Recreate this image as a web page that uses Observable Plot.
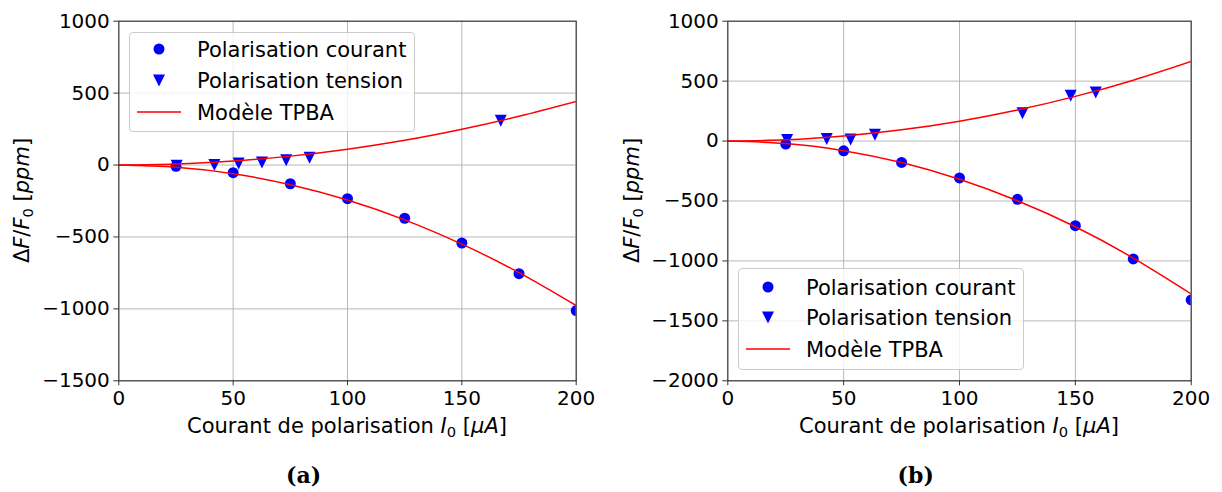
<!DOCTYPE html>
<html>
<head>
<meta charset="utf-8">
<script src="https://cdn.jsdelivr.net/npm/d3@7"></script>
<script src="https://cdn.jsdelivr.net/npm/@observablehq/plot@0.6"></script>
<style>
  html, body { margin: 0; padding: 0; background: white; }
  #root { position: relative; width: 1222px; height: 492px; font-family: "DejaVu Sans", sans-serif; overflow: hidden; }
  .panel { position: absolute; top: 0; }
  .legend { position: absolute; background: rgba(255,255,255,0.8); border: 1px solid #cccccc; border-radius: 4px; box-sizing: border-box; }
  .legend svg { display: block; }
</style>
</head>
<body>
<div id="root"></div>
<script>
// ---------- data ----------
const xTicks = [0, 50, 100, 150, 200];
const yTicksA = [-1500, -1000, -500, 0, 500, 1000];
const yTicksB = [-2000, -1500, -1000, -500, 0, 500, 1000];

// Panel (a)
const currentXA = [25, 50, 75, 100, 125, 150, 175, 200];
const currentYA = [-9, -53, -130, -234, -370, -542, -755, -1012];
const tensionXA = [25.3, 41.8, 52.4, 62.6, 73.2, 83.4, 167];
const tensionYA = [-5, 0, 10, 18, 33, 50, 308];
const modelXA = [0, 25, 50, 75, 100, 125, 150, 175, 200];
const modelUpA = [0, 7, 28, 62, 110, 172, 249, 339, 442];
const modelDownA = [0, -15, -60, -137, -243, -381, -550, -748, -977];

// Panel (b)
const currentXB = [25, 50, 75, 100, 125, 150, 175, 200];
const currentYB = [-25, -81, -178, -308, -486, -706, -983, -1325];
const tensionXB = [25.6, 42.7, 53, 63.5, 127.2, 148, 158.8];
const tensionYB = [8, 17, 14, 53, 233, 378, 406];
const modelXB = [0, 25, 50, 75, 100, 125, 150, 175, 200];
const modelUpB = [0, 10, 42, 94, 166, 259, 373, 508, 664];
const modelDownB = [0, -20, -80, -179, -319, -498, -715, -976, -1275];

const legendLabels = ["Polarisation courant", "Polarisation tension", "Modèle TPBA"];
const captions = ["(a)", "(b)"];

// ---------- helpers ----------
const BLUE = "#0000ff", RED = "#ff0000", GRID = "#b0b0b0";
const DOT_R = 5.5, TRI_R = 6;
const fmt = d => d < 0 ? "\u2212" + Math.abs(d) : String(d);
const triangleDown = {
  draw(ctx, size) {
    const r = Math.sqrt(size / Math.PI);
    ctx.moveTo(-r, -r);
    ctx.lineTo(r, -r);
    ctx.lineTo(0, r);
    ctx.closePath();
  }
};

function panel({left, width, marginLeft, marginRight, yDomain, yTicks, cx, cy, tx, ty, mx, mUp, mDown, caption, labelX, yLabelX, captionX}) {
  const cur = cx.map((x, i) => ({x, y: cy[i]}));
  const ten = tx.map((x, i) => ({x, y: ty[i]}));
  const up = mx.map((x, i) => ({x, y: mUp[i]}));
  const down = mx.map((x, i) => ({x, y: mDown[i]}));
  const svg = Plot.plot({
    width, height: 492,
    marginLeft, marginRight, marginTop: 20.7, marginBottom: 492 - 380.3,
    style: {fontFamily: "DejaVu Sans", fontSize: "20px", color: "#000", background: "white", overflow: "visible"},
    x: {domain: [0, 200]},
    y: {domain: yDomain},
    marks: [
      Plot.gridX(xTicks, {stroke: GRID, strokeOpacity: 1, strokeWidth: 0.9}),
      Plot.gridY(yTicks, {stroke: GRID, strokeOpacity: 1, strokeWidth: 0.9}),
      Plot.dot(cur, {x: "x", y: "y", r: DOT_R, fill: BLUE, stroke: null, clip: true}),
      Plot.dot(ten, {x: "x", y: "y", r: TRI_R, symbol: triangleDown, fill: BLUE, stroke: null, clip: true}),
      Plot.line(up, {x: "x", y: "y", stroke: RED, strokeWidth: 1.5, curve: "natural", clip: true}),
      Plot.line(down, {x: "x", y: "y", stroke: RED, strokeWidth: 1.5, curve: "natural", clip: true}),
      Plot.frame({stroke: "#333", strokeWidth: 1.1}),
      Plot.axisX({ticks: xTicks, tickSize: 5, tickPadding: 5.4, label: null, fontSize: 20, tickFormat: fmt, stroke: "#333"}),
      Plot.axisY({ticks: yTicks, tickSize: 5, tickPadding: 4, label: null, fontSize: 20, tickFormat: fmt, stroke: "#333"})
    ]
  });
  const wrap = document.createElement("div");
  wrap.className = "panel";
  wrap.style.left = left + "px";
  wrap.appendChild(svg);
  document.getElementById("root").appendChild(wrap);

  const s = d3.select(svg);
  // x label
  const xl = s.append("text").attr("x", labelX).attr("y", 433).attr("text-anchor", "middle")
    .attr("font-family", "DejaVu Sans").attr("font-size", 21).attr("fill", "#000");
  xl.append("tspan").text("Courant de polarisation ");
  xl.append("tspan").attr("font-style", "italic").text("I");
  xl.append("tspan").attr("font-size", 14.7).attr("dy", 4).text("0");
  xl.append("tspan").attr("dy", -4).text(" [");
  xl.append("tspan").attr("font-style", "italic").text("\u03bcA");
  xl.append("tspan").text("]");
  // y label
  const yl = s.append("text").attr("transform", `translate(${yLabelX},200.5) rotate(-90)`).attr("text-anchor", "middle")
    .attr("font-family", "DejaVu Sans").attr("font-size", 21).attr("fill", "#000");
  yl.append("tspan").text("\u0394");
  yl.append("tspan").attr("font-style", "italic").text("F");
  yl.append("tspan").text("/");
  yl.append("tspan").attr("font-style", "italic").text("F");
  yl.append("tspan").attr("font-size", 14.7).attr("dy", 4).text("0");
  yl.append("tspan").attr("dy", -4).text(" [");
  yl.append("tspan").attr("font-style", "italic").text("ppm");
  yl.append("tspan").text("]");
  // caption
  s.append("text").attr("x", captionX).attr("y", 483).attr("text-anchor", "middle")
    .attr("font-family", "DejaVu Serif").attr("font-weight", "bold").attr("font-size", 22).attr("fill", "#000")
    .text(caption);
}

function legend({left, top, width, height, rows}) {
  const div = document.createElement("div");
  div.className = "legend";
  Object.assign(div.style, {left: left + "px", top: top + "px", width: width + "px", height: height + "px"});
  document.getElementById("root").appendChild(div);
  const svg = d3.select(div).append("svg").attr("width", width - 2).attr("height", height - 2);
  const mx = 29, tx0 = 67;
  // row 0: circle
  svg.append("circle").attr("cx", mx).attr("cy", rows[0]).attr("r", DOT_R).attr("fill", BLUE);
  // row 1: down triangle
  const r = TRI_R, y1 = rows[1];
  svg.append("path").attr("d", `M${mx - r},${y1 - r}L${mx + r},${y1 - r}L${mx},${y1 + r}Z`).attr("fill", BLUE);
  // row 2: line
  svg.append("line").attr("x1", 7).attr("x2", 51).attr("y1", rows[2]).attr("y2", rows[2]).attr("stroke", RED).attr("stroke-width", 1.5);
  legendLabels.forEach((t, i) => {
    svg.append("text").attr("x", tx0).attr("y", rows[i]).attr("dy", "0.36em")
      .attr("font-family", "DejaVu Sans").attr("font-size", 21).attr("fill", "#000").text(t);
  });
}

panel({left: 0, width: 610, marginLeft: 118.3, marginRight: 610 - 575.7, yDomain: [-1500, 1000], yTicks: yTicksA,
  cx: currentXA, cy: currentYA, tx: tensionXA, ty: tensionYA, mx: modelXA, mUp: modelUpA, mDown: modelDownA,
  caption: captions[0], labelX: 347, yLabelX: 29.3, captionX: 303.6});
panel({left: 610, width: 612, marginLeft: 117.3, marginRight: 612 - 580.7, yDomain: [-2000, 1000], yTicks: yTicksB,
  cx: currentXB, cy: currentYB, tx: tensionXB, ty: tensionYB, mx: modelXB, mUp: modelUpB, mDown: modelDownB,
  caption: captions[1], labelX: 349, yLabelX: 29.3, captionX: 305.7});

legend({left: 129, top: 32, width: 286, height: 100, rows: [16, 47.5, 79]});
legend({left: 738, top: 268, width: 286, height: 102, rows: [18, 48.5, 80]});
</script>
</body>
</html>
